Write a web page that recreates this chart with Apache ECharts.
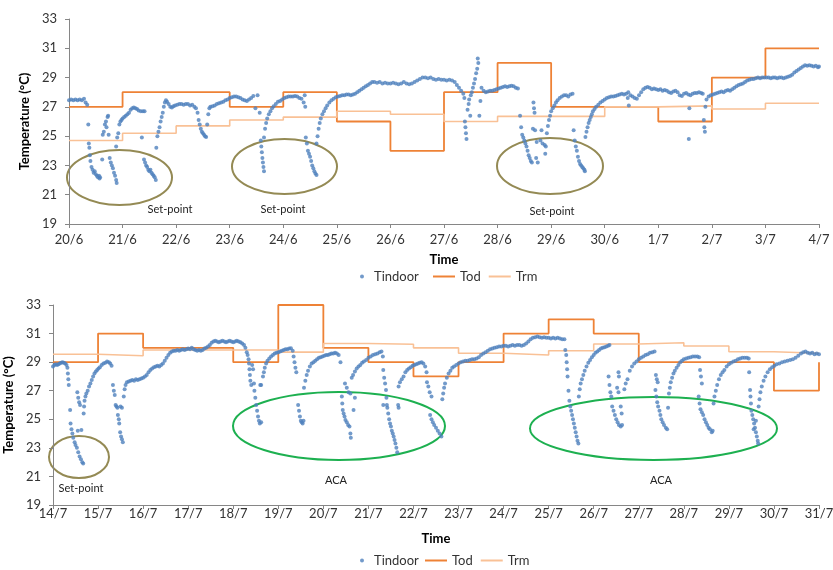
<!DOCTYPE html>
<html>
<head>
<meta charset="utf-8">
<title>Tindoor / Tod / Trm</title>
<script src="https://cdn.jsdelivr.net/npm/echarts@6/dist/echarts.min.js"></script>
<style>
  html, body { margin: 0; padding: 0; background: #fff; }
  #chart { width: 833px; height: 570px; }
</style>
</head>
<body>
<div id="chart"></div>
<script>
// tick labels, one per day
var topDays = ['20/6', '21/6', '22/6', '23/6', '24/6', '25/6', '26/6', '27/6', '28/6', '29/6', '30/6', '1/7', '2/7', '3/7', '4/7']
var bottomDays = ['14/7', '15/7', '16/7', '17/7', '18/7', '19/7', '20/7', '21/7', '22/7', '23/7', '24/7', '25/7', '26/7', '27/7', '28/7', '29/7', '30/7', '31/7']

// daily Tod / Trm, one value per day from the first label
var todTop = [27, 28, 28, 27, 28, 26, 24, 28, 30, 27, 27, 26, 29, 31]
var trmTop = [24.7, 25.2, 25.7, 26.1, 26.3, 26.7, 26.5, 26.0, 26.35, 26.35, 27.0, 27.07, 26.85, 27.25]
var todBottom = [29, 31, 30, 30, 29, 33, 30, 29, 28, 29, 31, 32, 31, 29, 29, 29, 27]
var todBottomEnd = 29
var trmBottom = [29.55, 29.45, 29.85, 29.85, 29.85, 29.7, 30.3, 30.25, 30.0, 29.62, 29.5, 29.8, 30.27, 30.36, 30.13, 29.73, 29.62]

// Tindoor readings [day since first label, degC]
var tindoorTop = [
  [0.0, 27.45], [0.04, 27.5], [0.08, 27.45], [0.12, 27.5], [0.16, 27.45], [0.2, 27.5], [0.24, 27.45], [0.28, 27.55], [0.31, 27.3], [0.34, 27.15],
  [0.36, 25.8], [0.37, 24.5], [0.38, 24.2], [0.39, 23.7], [0.4, 23.3], [0.42, 22.9], [0.44, 22.7], [0.46, 22.5], [0.48, 22.6], [0.5, 22.4],
  [0.52, 22.3], [0.54, 22.2], [0.56, 22.3], [0.57, 22.1], [0.58, 22.2],
  [0.62, 23.4], [0.63, 25.1], [0.65, 25.3], [0.67, 25.8], [0.69, 26.0], [0.7, 25.6], [0.72, 26.3], [0.73, 26.4], [0.74, 25.1],
  [0.76, 23.5], [0.78, 23.2], [0.8, 23.0], [0.82, 22.8], [0.84, 22.5], [0.86, 22.3], [0.88, 22.0], [0.89, 21.8],
  [0.88, 24.3], [0.9, 24.9], [0.92, 25.2], [0.94, 25.8], [0.96, 26.0], [0.98, 26.1], [1.0, 26.2], [1.03, 26.3], [1.06, 26.4], [1.09, 26.5],
  [1.12, 26.6], [1.15, 26.8], [1.18, 26.9], [1.21, 26.95], [1.24, 26.9], [1.27, 26.85], [1.3, 26.75], [1.34, 26.7], [1.38, 26.7], [1.41, 26.7],
  [1.36, 24.9],
  [1.4, 23.4], [1.42, 23.2], [1.44, 23.0], [1.46, 22.9], [1.48, 22.7], [1.5, 22.6], [1.52, 22.7], [1.54, 22.5], [1.56, 22.4], [1.58, 22.3], [1.6, 22.2], [1.62, 22.0],
  [1.63, 24.2], [1.65, 25.0], [1.67, 25.3], [1.69, 25.6], [1.71, 26.0], [1.73, 26.3], [1.75, 26.6], [1.77, 27.0], [1.79, 27.3], [1.81, 27.45], [1.83, 27.35],
  [1.86, 27.2], [1.89, 27.0], [1.92, 26.95], [1.95, 27.05], [1.98, 27.1], [2.02, 27.15], [2.06, 27.2], [2.1, 27.2], [2.14, 27.15], [2.18, 27.2],
  [2.22, 27.2], [2.26, 27.1], [2.3, 27.15], [2.34, 27.0], [2.37, 26.9],
  [2.4, 26.6], [2.42, 26.1], [2.44, 25.8], [2.46, 25.5], [2.48, 25.3], [2.5, 25.2], [2.52, 25.1], [2.54, 25.0], [2.56, 24.95],
  [2.58, 25.8], [2.6, 26.5], [2.62, 26.9], [2.64, 27.0], [2.68, 27.05], [2.72, 27.1], [2.76, 27.2], [2.8, 27.25], [2.84, 27.3], [2.88, 27.35],
  [2.92, 27.45], [2.96, 27.5], [3.0, 27.6], [3.04, 27.65], [3.08, 27.7], [3.12, 27.7], [3.16, 27.65], [3.2, 27.6], [3.24, 27.5], [3.28, 27.45],
  [3.32, 27.4], [3.36, 27.5], [3.4, 27.6], [3.44, 27.75], [3.48, 26.9], [3.52, 27.8], [3.56, 26.6],
  [3.58, 24.7], [3.59, 24.3], [3.6, 23.9], [3.61, 23.5], [3.62, 23.2], [3.63, 22.9], [3.64, 22.6],
  [3.64, 24.9], [3.66, 25.5], [3.68, 25.9], [3.7, 26.2], [3.73, 26.5], [3.76, 26.7], [3.79, 26.9], [3.82, 27.05], [3.86, 27.2], [3.9, 27.35],
  [3.94, 27.4], [3.98, 27.5], [4.02, 27.6], [4.06, 27.65], [4.1, 27.7], [4.14, 27.7], [4.18, 27.7], [4.22, 27.75], [4.26, 27.7], [4.3, 27.6],
  [4.34, 27.55], [4.38, 27.3], [4.4, 27.8], [4.41, 27.0],
  [4.42, 24.9], [4.44, 24.5], [4.46, 24.0], [4.48, 23.8], [4.5, 23.6], [4.52, 23.3], [4.54, 23.0], [4.56, 22.8], [4.58, 22.6], [4.6, 22.45], [4.62, 22.35],
  [4.62, 24.5], [4.64, 25.0], [4.66, 25.5], [4.68, 25.9], [4.7, 26.2], [4.73, 26.5], [4.76, 26.7], [4.79, 26.9], [4.82, 27.1], [4.86, 27.3],
  [4.9, 27.45], [4.94, 27.55], [4.98, 27.65],
  [5.02, 27.7], [5.06, 27.75], [5.1, 27.8], [5.14, 27.8], [5.18, 27.85], [5.22, 27.85], [5.26, 27.8], [5.3, 27.85], [5.34, 27.9], [5.38, 28.0],
  [5.42, 28.1], [5.46, 28.2], [5.5, 28.3], [5.54, 28.4], [5.58, 28.5], [5.62, 28.6], [5.66, 28.7],
  [5.7, 28.7], [5.75, 28.65], [5.8, 28.7], [5.85, 28.6], [5.9, 28.65], [5.95, 28.6], [6.0, 28.6], [6.05, 28.65], [6.1, 28.6], [6.15, 28.55],
  [6.2, 28.6], [6.25, 28.7], [6.3, 28.6], [6.35, 28.55], [6.4, 28.6], [6.45, 28.7], [6.5, 28.8], [6.55, 28.9], [6.6, 29.0], [6.65, 29.0],
  [6.7, 28.95], [6.75, 29.0], [6.8, 28.9], [6.85, 28.85], [6.9, 28.9], [6.95, 28.85], [7.0, 28.85], [7.05, 28.8], [7.1, 28.85], [7.15, 28.8],
  [7.2, 28.7], [7.24, 28.5], [7.28, 28.3], [7.32, 28.1], [7.36, 27.9],
  [7.38, 27.6], [7.39, 26.0], [7.4, 25.6], [7.41, 25.2], [7.42, 24.8], [7.44, 26.8], [7.46, 27.2], [7.47, 27.5], [7.49, 26.4], [7.5, 27.8],
  [7.52, 28.0], [7.54, 28.3], [7.56, 28.6], [7.58, 28.9], [7.6, 29.3], [7.62, 29.6], [7.64, 30.0], [7.63, 30.3], [7.66, 26.4], [7.68, 27.4],
  [7.7, 28.3], [7.74, 28.1], [7.78, 28.0], [7.82, 28.05], [7.86, 28.1], [7.9, 28.1], [7.94, 28.15], [7.98, 28.2], [8.02, 28.25], [8.06, 28.3],
  [8.1, 28.35], [8.14, 28.4], [8.18, 28.35], [8.22, 28.4], [8.26, 28.45], [8.3, 28.4], [8.34, 28.3], [8.38, 28.25],
  [8.42, 26.4], [8.44, 25.6], [8.46, 25.1], [8.48, 24.9], [8.5, 24.7], [8.52, 24.5], [8.54, 24.3], [8.56, 24.0], [8.58, 23.7], [8.6, 23.5],
  [8.62, 23.3], [8.64, 23.2], [8.67, 27.3], [8.68, 26.9], [8.69, 26.6], [8.7, 25.4], [8.66, 25.5], [8.72, 23.5], [8.75, 23.2], [8.73, 24.6],
  [8.8, 24.7], [8.84, 24.5], [8.88, 24.4], [8.9, 24.3], [8.89, 23.8], [8.82, 25.4],
  [8.92, 25.2], [8.94, 25.7], [8.96, 26.1], [8.98, 26.4], [9.0, 26.7], [9.03, 26.9], [9.06, 27.1], [9.09, 27.3], [9.12, 27.45], [9.16, 27.6],
  [9.2, 27.7], [9.24, 27.8], [9.28, 27.8], [9.32, 27.7], [9.36, 27.85], [9.4, 27.9], [9.42, 25.4],
  [9.44, 24.7], [9.46, 24.3], [9.48, 24.0], [9.5, 23.6], [9.52, 23.3], [9.54, 23.1], [9.56, 23.0], [9.58, 22.9], [9.6, 22.8], [9.62, 22.7], [9.63, 22.6],
  [9.64, 24.95], [9.66, 25.3], [9.68, 25.6], [9.7, 25.9], [9.72, 26.1], [9.74, 26.3], [9.76, 26.5], [9.78, 26.7], [9.81, 26.85], [9.84, 27.0],
  [9.88, 27.15], [9.92, 27.3], [9.96, 27.4], [10.0, 27.5], [10.04, 27.6], [10.08, 27.65], [10.12, 27.7], [10.16, 27.7], [10.2, 27.75], [10.24, 27.8],
  [10.28, 27.85], [10.32, 27.9], [10.36, 27.85], [10.4, 27.9], [10.44, 28.0], [10.45, 27.1], [10.43, 27.6],
  [10.48, 27.8], [10.52, 27.7], [10.56, 27.6], [10.6, 27.55], [10.64, 27.8], [10.68, 28.0], [10.72, 28.2], [10.76, 28.3], [10.8, 28.35], [10.84, 28.3],
  [10.88, 28.2], [10.92, 28.25], [10.96, 28.2], [11.0, 28.15], [11.04, 28.2], [11.08, 28.1], [11.12, 28.15], [11.16, 28.1], [11.2, 28.0], [11.24, 27.95],
  [11.28, 28.05], [11.32, 28.1], [11.36, 28.0], [11.4, 27.8], [11.44, 27.75], [11.48, 27.9], [11.52, 27.95],
  [11.56, 27.85], [11.58, 26.9], [11.57, 24.8], [11.6, 27.8], [11.64, 27.9], [11.68, 27.95], [11.72, 27.95], [11.76, 28.0], [11.8, 27.95], [11.83, 27.9],
  [11.85, 26.1], [11.86, 25.6], [11.87, 25.3], [11.88, 27.0],
  [11.9, 27.5], [11.94, 27.7], [11.98, 27.8], [12.02, 27.85], [12.06, 27.9], [12.1, 27.95], [12.14, 28.0], [12.18, 28.05], [12.22, 28.0], [12.26, 28.1],
  [12.3, 28.15], [12.34, 28.1], [12.38, 28.2], [12.42, 28.3], [12.46, 28.4], [12.5, 28.5], [12.54, 28.55], [12.58, 28.6], [12.62, 28.7], [12.66, 28.8],
  [12.7, 28.85], [12.74, 28.9], [12.78, 28.9], [12.82, 28.95], [12.86, 29.0], [12.9, 28.95], [12.94, 29.0], [12.98, 29.0],
  [13.02, 29.0], [13.06, 29.0], [13.1, 28.95], [13.14, 29.0], [13.18, 29.0], [13.22, 28.95], [13.26, 29.0], [13.3, 29.0], [13.34, 28.95], [13.38, 29.0],
  [13.42, 29.05], [13.46, 29.1], [13.5, 29.2], [13.54, 29.35], [13.58, 29.45], [13.62, 29.55], [13.66, 29.65], [13.7, 29.75], [13.74, 29.85], [13.78, 29.8],
  [13.82, 29.85], [13.86, 29.8], [13.9, 29.75], [13.94, 29.8], [13.98, 29.7], [14.0, 29.75]
]

var tindoorBottom = [
  [0.0, 28.7], [0.03, 28.8], [0.06, 28.85], [0.09, 28.8], [0.12, 28.85], [0.15, 28.9], [0.18, 28.95], [0.21, 29.0], [0.24, 28.95], [0.27, 28.9], [0.3, 28.8],
  [0.32, 28.6], [0.33, 28.2], [0.34, 27.8], [0.35, 27.4], [0.38, 25.65],
  [0.39, 24.7], [0.41, 24.3], [0.43, 24.0], [0.45, 23.7], [0.48, 23.4], [0.5, 23.2], [0.53, 23.0], [0.56, 22.7], [0.59, 22.4], [0.62, 22.2], [0.65, 22.0], [0.67, 21.9],
  [0.54, 26.9], [0.56, 26.5], [0.58, 26.2], [0.6, 26.0], [0.63, 24.25], [0.55, 24.2],
  [0.68, 25.4], [0.69, 25.9], [0.7, 26.3], [0.72, 26.6], [0.74, 26.8], [0.77, 27.0], [0.8, 27.3], [0.83, 27.5], [0.86, 27.75], [0.89, 28.0],
  [0.92, 28.2], [0.95, 28.35], [0.98, 28.45], [1.01, 28.55], [1.04, 28.65], [1.08, 28.8], [1.12, 28.9], [1.16, 28.95], [1.2, 29.05], [1.24, 29.0],
  [1.27, 28.9], [1.3, 28.75],
  [1.33, 27.4], [1.35, 27.0], [1.37, 26.7], [1.39, 26.0], [1.41, 25.9], [1.43, 25.8], [1.44, 25.3], [1.46, 25.0], [1.47, 24.7], [1.49, 24.1],
  [1.51, 23.8], [1.53, 23.6], [1.55, 23.4], [1.5, 25.9], [1.53, 25.8],
  [1.57, 26.6], [1.59, 27.1], [1.61, 27.4], [1.64, 27.6], [1.68, 27.65], [1.72, 27.7], [1.76, 27.75], [1.8, 27.7], [1.84, 27.8], [1.88, 27.75],
  [1.92, 27.8], [1.96, 27.85], [2.0, 27.9], [2.04, 28.0], [2.08, 28.1], [2.12, 28.3], [2.16, 28.45], [2.2, 28.55], [2.24, 28.65], [2.28, 28.7],
  [2.32, 28.75], [2.36, 28.7], [2.4, 28.8], [2.44, 28.9], [2.48, 29.1], [2.52, 29.3], [2.56, 29.5], [2.6, 29.65], [2.64, 29.75], [2.68, 29.8],
  [2.72, 29.8], [2.76, 29.85], [2.8, 29.8], [2.84, 29.85], [2.88, 29.9], [2.92, 29.85], [2.96, 29.9], [3.0, 29.95], [3.04, 29.9], [3.08, 30.0],
  [3.12, 29.9], [3.16, 29.85], [3.2, 29.8], [3.24, 29.85], [3.28, 29.8], [3.32, 29.85], [3.36, 29.95], [3.4, 30.0], [3.44, 30.1], [3.48, 30.2],
  [3.52, 30.35], [3.56, 30.45], [3.6, 30.5], [3.64, 30.45], [3.68, 30.4], [3.72, 30.45], [3.76, 30.5], [3.8, 30.45], [3.84, 30.4], [3.88, 30.45],
  [3.92, 30.5], [3.96, 30.45], [4.0, 30.4], [4.04, 30.45], [4.08, 30.5], [4.12, 30.45], [4.16, 30.4], [4.2, 30.3], [4.24, 30.2], [4.27, 30.0],
  [4.3, 29.7], [4.32, 29.5], [4.34, 29.2], [4.35, 28.9], [4.36, 28.5], [4.37, 28.1], [4.38, 27.7], [4.4, 27.4], [4.42, 28.8], [4.44, 28.5],
  [4.46, 27.5], [4.47, 27.0], [4.49, 26.5], [4.51, 26.0], [4.53, 25.6], [4.55, 25.2], [4.57, 24.9], [4.59, 24.7], [4.62, 24.8], [4.6, 27.4], [4.62, 27.4],
  [4.66, 28.0], [4.68, 28.3], [4.7, 28.6], [4.73, 28.9], [4.76, 29.1], [4.8, 29.25], [4.84, 29.4], [4.88, 29.5], [4.92, 29.6], [4.96, 29.65],
  [5.0, 29.7], [5.04, 29.75], [5.08, 29.8], [5.12, 29.85], [5.16, 29.9], [5.2, 29.9], [5.24, 29.95], [5.28, 29.97], [5.32, 29.8],
  [5.34, 29.4], [5.36, 29.0], [5.38, 28.6], [5.4, 28.3], [5.44, 26.0], [5.46, 25.6], [5.48, 25.2], [5.5, 24.9], [5.52, 24.8], [5.54, 24.7], [5.56, 24.9],
  [5.57, 27.2], [5.6, 27.7], [5.63, 28.1], [5.66, 28.4], [5.7, 28.7], [5.74, 28.9], [5.78, 29.0], [5.82, 29.1], [5.86, 29.2], [5.9, 29.3],
  [5.94, 29.35], [5.98, 29.4], [6.02, 29.45], [6.06, 29.5], [6.1, 29.5], [6.14, 29.55], [6.18, 29.6], [6.22, 29.6], [6.26, 29.65], [6.3, 29.6],
  [6.34, 29.5], [6.38, 29.0],
  [6.41, 26.6], [6.42, 26.1], [6.43, 25.65], [6.45, 25.4], [6.47, 25.2], [6.49, 24.95], [6.52, 24.8], [6.55, 24.6], [6.58, 24.5], [6.6, 24.0],
  [6.61, 23.7], [6.48, 27.5], [6.52, 27.2], [6.56, 26.9], [6.6, 26.8], [6.7, 26.5], [6.67, 25.65],
  [6.63, 27.9], [6.66, 28.1], [6.7, 28.35], [6.74, 28.55], [6.78, 28.7], [6.82, 28.8], [6.86, 28.95], [6.9, 29.05], [6.95, 29.15], [7.0, 29.3],
  [7.05, 29.4], [7.1, 29.5], [7.15, 29.55], [7.2, 29.6], [7.25, 29.7], [7.29, 29.75],
  [7.32, 29.4], [7.33, 28.45], [7.35, 27.9], [7.37, 27.5], [7.39, 27.05], [7.4, 26.5], [7.41, 26.0], [7.42, 25.8], [7.44, 25.4], [7.46, 25.0],
  [7.48, 24.7], [7.5, 24.5], [7.52, 24.2], [7.54, 24.0], [7.56, 23.8], [7.58, 23.55], [7.6, 23.3], [7.62, 23.0], [7.64, 22.7], [7.33, 26.0],
  [7.66, 26.0], [7.67, 25.8],
  [7.67, 27.3], [7.7, 27.6], [7.74, 27.8], [7.78, 28.0], [7.82, 28.3], [7.86, 28.45], [7.9, 28.55], [7.94, 28.65], [7.98, 28.75], [8.02, 28.8],
  [8.06, 28.85], [8.1, 28.9], [8.14, 28.95], [8.18, 29.0], [8.22, 28.9], [8.26, 28.7],
  [8.29, 28.3], [8.3, 27.6], [8.33, 27.3], [8.36, 26.9], [8.4, 26.6], [8.37, 25.3], [8.4, 25.0], [8.43, 24.8], [8.46, 24.6], [8.5, 24.4],
  [8.54, 24.2], [8.58, 24.0], [8.62, 23.8],
  [8.64, 26.4], [8.66, 26.8], [8.68, 27.2], [8.7, 27.5], [8.74, 27.9], [8.78, 28.2], [8.82, 28.4], [8.86, 28.6], [8.9, 28.7], [8.95, 28.8],
  [9.0, 28.9], [9.05, 29.0], [9.1, 29.05], [9.15, 29.1], [9.2, 29.1], [9.25, 29.15], [9.3, 29.2], [9.35, 29.2], [9.4, 29.25], [9.45, 29.35],
  [9.5, 29.5], [9.55, 29.6], [9.6, 29.7], [9.65, 29.8], [9.7, 29.9], [9.75, 29.95], [9.8, 30.0], [9.85, 30.05], [9.9, 30.1], [9.95, 30.1],
  [10.0, 30.15], [10.05, 30.15], [10.1, 30.1], [10.15, 30.15], [10.2, 30.2], [10.25, 30.15], [10.3, 30.2], [10.35, 30.2], [10.4, 30.15], [10.45, 30.2],
  [10.5, 30.3], [10.55, 30.45], [10.6, 30.6], [10.65, 30.7], [10.7, 30.75], [10.75, 30.8], [10.8, 30.75], [10.85, 30.7], [10.9, 30.75], [10.95, 30.7],
  [11.0, 30.7], [11.05, 30.65], [11.1, 30.7], [11.15, 30.65], [11.2, 30.7], [11.25, 30.65], [11.3, 30.6], [11.35, 30.6],
  [11.37, 29.85], [11.39, 29.5], [11.4, 29.0], [11.41, 28.5], [11.42, 28.0], [11.44, 27.0], [11.46, 26.3], [11.48, 25.9], [11.5, 25.6], [11.52, 25.3],
  [11.54, 25.0], [11.56, 24.7], [11.58, 24.4], [11.6, 24.1], [11.62, 23.8], [11.64, 23.5], [11.66, 23.3],
  [11.67, 26.6], [11.69, 27.1], [11.71, 27.5], [11.74, 27.8], [11.77, 28.1], [11.8, 28.4], [11.84, 28.7], [11.88, 28.95], [11.92, 29.15], [11.96, 29.35],
  [12.0, 29.5], [12.04, 29.65], [12.08, 29.75], [12.12, 29.85], [12.16, 29.95], [12.2, 30.0], [12.24, 30.05], [12.28, 30.1], [12.32, 30.15], [12.35, 30.2],
  [12.33, 28.0], [12.35, 27.4], [12.37, 26.9], [12.39, 26.6], [12.41, 25.9], [12.44, 25.6], [12.47, 25.3], [12.5, 25.0], [12.53, 24.8], [12.56, 24.6],
  [12.6, 24.5], [12.63, 24.6], [12.55, 28.3], [12.56, 28.0], [12.52, 27.2], [12.55, 26.9], [12.6, 25.9], [12.62, 25.4],
  [12.68, 27.1], [12.71, 27.5], [12.75, 27.8], [12.8, 28.4], [12.85, 28.7], [12.9, 28.9], [12.95, 29.05], [13.0, 29.2], [13.05, 29.3], [13.1, 29.4],
  [13.15, 29.5], [13.2, 29.55], [13.25, 29.65], [13.3, 29.7], [13.35, 29.75],
  [13.38, 28.1], [13.4, 27.8], [13.42, 27.6], [13.37, 27.05], [13.39, 26.6], [13.41, 26.2], [13.43, 25.9], [13.46, 25.6], [13.48, 25.3], [13.5, 25.0],
  [13.53, 24.8], [13.56, 24.6], [13.6, 24.4], [13.63, 24.3], [13.65, 25.8],
  [13.67, 26.8], [13.69, 27.2], [13.71, 27.6], [13.74, 27.9], [13.77, 28.2], [13.8, 28.4], [13.84, 28.6], [13.88, 28.8], [13.92, 29.0], [13.96, 29.1],
  [14.0, 29.2], [14.05, 29.25], [14.1, 29.3], [14.15, 29.35], [14.2, 29.4], [14.25, 29.4], [14.3, 29.4], [14.34, 29.35],
  [14.36, 28.45], [14.38, 28.0], [14.4, 27.5], [14.33, 26.6], [14.35, 26.1], [14.37, 25.7], [14.4, 25.5], [14.43, 25.3], [14.46, 25.0], [14.49, 24.8],
  [14.52, 24.6], [14.55, 24.4], [14.58, 24.3], [14.62, 24.1], [14.64, 24.2],
  [14.66, 26.1], [14.68, 26.6], [14.71, 27.0], [14.74, 27.4], [14.78, 27.8], [14.82, 28.1], [14.86, 28.3], [14.9, 28.45], [14.95, 28.7], [15.0, 28.85],
  [15.05, 28.95], [15.1, 29.05], [15.15, 29.1], [15.2, 29.2], [15.25, 29.25], [15.3, 29.3], [15.35, 29.3], [15.4, 29.3], [15.44, 29.25],
  [15.45, 28.3], [15.47, 27.05], [15.48, 26.6], [15.49, 26.1], [15.5, 25.6], [15.52, 25.3], [15.54, 25.0], [15.56, 24.7], [15.58, 24.4], [15.6, 24.1],
  [15.62, 23.8], [15.64, 23.5], [15.65, 23.3], [15.55, 24.3], [15.6, 24.9],
  [15.66, 25.9], [15.68, 26.4], [15.7, 26.9], [15.73, 27.3], [15.77, 27.7], [15.81, 28.0], [15.86, 28.3], [15.91, 28.5], [15.96, 28.65], [16.01, 28.75],
  [16.06, 28.85], [16.12, 28.9], [16.18, 29.0], [16.24, 29.05], [16.3, 29.1], [16.36, 29.15], [16.42, 29.2], [16.48, 29.3], [16.54, 29.45], [16.6, 29.6],
  [16.65, 29.7], [16.7, 29.75], [16.75, 29.65], [16.8, 29.6], [16.85, 29.65], [16.9, 29.55], [16.95, 29.6], [17.0, 29.55]
]

var FONT = 'Lato, "Open Sans", sans-serif'
var AXIS_GREY = '#868686'
var TEXT = '#333333'
var BLUE = '#4F81BD'
var TOD = '#EE8236'
var TRM = '#F9C196'
var OLIVE = '#948A54'
var GREEN = '#1DB050'

// one value per day -> step points, last value carried to the end of the period
function stepData(values, endValue) {
  var pts = values.map(function(v, i) { return [i, v] })
  pts.push([values.length, values[values.length - 1]])
  if (endValue !== undefined) pts.push([values.length, endValue])
  return pts
}

function xAxis(gridIndex, labels, labelMargin, nameGap) {
  return {
    type: 'value',
    gridIndex: gridIndex,
    min: 0,
    max: labels.length - 1,
    interval: 1,
    name: 'Time',
    nameLocation: 'middle',
    nameGap: nameGap,
    nameTextStyle: { fontFamily: FONT, fontWeight: 'bold', fontSize: 13, color: '#000' },
    axisLine: { show: true, lineStyle: { color: AXIS_GREY, width: 1 } },
    axisTick: { show: true, length: 4, lineStyle: { color: AXIS_GREY } },
    axisLabel: {
      margin: labelMargin,
      fontFamily: FONT,
      fontSize: 13,
      color: TEXT,
      formatter: function(v) { return labels[Math.round(v)] }
    },
    splitLine: { show: false }
  }
}

function yAxis(gridIndex) {
  return {
    type: 'value',
    gridIndex: gridIndex,
    min: 19,
    max: 33,
    interval: 2,
    name: 'Temperature (°C)',
    nameLocation: 'middle',
    nameRotate: 90,
    nameGap: 30,
    nameTextStyle: { fontFamily: FONT, fontWeight: 'bold', fontSize: 13, color: '#000' },
    axisLine: { show: true, lineStyle: { color: AXIS_GREY, width: 1 } },
    axisTick: { show: true, length: 4, lineStyle: { color: AXIS_GREY } },
    axisLabel: { margin: 12, fontFamily: FONT, fontSize: 13, color: TEXT },
    splitLine: { show: false }
  }
}

function scatter(idx, data) {
  return {
    name: 'Tindoor',
    type: 'scatter',
    xAxisIndex: idx,
    yAxisIndex: idx,
    data: data,
    symbolSize: 4,
    itemStyle: { color: BLUE },
    z: 5,
    silent: true
  }
}

function step(name, idx, data, color, width) {
  return {
    name: name,
    type: 'line',
    step: 'end',
    xAxisIndex: idx,
    yAxisIndex: idx,
    data: data,
    showSymbol: false,
    symbol: 'none',
    itemStyle: { color: color },
    lineStyle: { color: color, width: width },
    z: 3,
    silent: true
  }
}

function legends(top, dotLeft, lineLeft) {
  var textStyle = { fontFamily: FONT, fontSize: 13, color: TEXT }
  return [
    {
      left: dotLeft, top: top, orient: 'horizontal',
      itemWidth: 14, itemHeight: 4, selectedMode: false,
      data: [{ name: 'Tindoor', icon: 'circle' }],
      textStyle: textStyle
    },
    {
      left: lineLeft, top: top, orient: 'horizontal',
      itemWidth: 22, itemHeight: 2, itemGap: 8, selectedMode: false,
      data: [{ name: 'Tod', icon: 'rect' }, { name: 'Trm', icon: 'rect' }],
      textStyle: textStyle
    }
  ]
}

function ellipse(cx, cy, rx, ry, color) {
  return {
    type: 'ellipse',
    shape: { cx: cx, cy: cy, rx: rx, ry: ry },
    style: { fill: null, stroke: color, lineWidth: 2 },
    silent: true
  }
}

function note(text, x, y) {
  return {
    type: 'text',
    x: x,
    y: y,
    style: { text: text, fontFamily: FONT, fontSize: 11, fill: '#222', align: 'center', verticalAlign: 'middle' },
    silent: true
  }
}

var chart = echarts.init(document.getElementById('chart'), null, { renderer: 'canvas' })

chart.setOption({
  animation: false,
  backgroundColor: '#fff',
  grid: [
    { left: 69, right: 14, top: 19, height: 205, outerBoundsMode: 'none' },
    { left: 53, right: 14, top: 305, height: 200, outerBoundsMode: 'none' }
  ],
  xAxis: [xAxis(0, topDays, 9, 29), xAxis(1, bottomDays, 2, 27)],
  yAxis: [yAxis(0), yAxis(1)],
  legend: legends(265, 355, 428).concat(legends(549, 355, 420)),
  series: [
    scatter(0, tindoorTop),
    step('Tod', 0, stepData(todTop), TOD, 1.8),
    step('Trm', 0, stepData(trmTop), TRM, 1.6),
    scatter(1, tindoorBottom),
    step('Tod', 1, stepData(todBottom, todBottomEnd), TOD, 1.8),
    step('Trm', 1, stepData(trmBottom), TRM, 1.6)
  ],
  graphic: [
    ellipse(119.5, 177.5, 52.5, 27.5, OLIVE),
    ellipse(284.5, 166.5, 52.5, 27.5, OLIVE),
    ellipse(550, 166, 53, 28, OLIVE),
    note('Set-point', 170, 209),
    note('Set-point', 283, 209),
    note('Set-point', 552, 211),
    ellipse(79, 457, 30, 21, OLIVE),
    note('Set-point', 81, 488),
    ellipse(339, 426, 106, 34, GREEN),
    ellipse(653.5, 428.5, 123.5, 31.5, GREEN),
    note('ACA', 336, 480),
    note('ACA', 661, 480)
  ]
})
</script>
</body>
</html>
